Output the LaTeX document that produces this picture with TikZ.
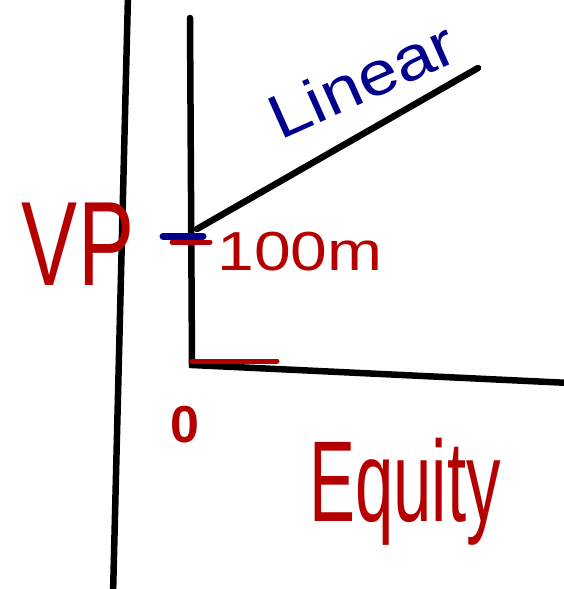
\documentclass[tikz,border=0pt]{standalone}
\usepackage{fontspec}
\setmainfont{Liberation Sans}
\definecolor{inkred}{RGB}{180,0,0}
\definecolor{inkblue}{RGB}{0,0,140}
\begin{document}
\begin{tikzpicture}[
  x=1pt, y=-1pt,
  stroke/.style={line width=6.5pt, line cap=round},
  tick/.style={line width=5pt, line cap=round},
  redtext/.style={text=inkred, inner sep=0pt},
  bluetext/.style={text=inkblue, inner sep=0pt}
]
\useasboundingbox (0,0) rectangle (564,589);
% axes
\coordinate (lt) at (128,-5);
\coordinate (lb) at (113,595);
\coordinate (ytop) at (190,18);
\coordinate (o) at (192,365);
\coordinate (xend) at (570,383);
\coordinate (ls) at (197,229);
\coordinate (le) at (478,68);
\draw[stroke] (lt) -- (lb);
\draw[stroke] (ytop) -- (o) -- (xend);
\draw[stroke] (ls) -- (le);
% ticks
\coordinate (bt1) at (163,236);
\coordinate (bt2) at (203,236);
\coordinate (rt1) at (172,242);
\coordinate (rt2) at (210,242);
\coordinate (zt1) at (192,361);
\coordinate (zt2) at (277,361);
\draw[tick, inkred] (rt1) -- (rt2);
\draw[tick, inkblue, line width=7pt] (bt1) -- (bt2);
\draw[tick, inkred] (zt1) -- (zt2);
% labels
\node[bluetext, rotate=24, xscale=1.15] (linear) at (362,80) {\fontsize{62}{62}\selectfont Linear};
\node[redtext, xscale=0.7] (vp) at (78,244) {\fontsize{120}{120}\selectfont VP};
\node[redtext, xscale=1.2] (val) at (300,252) {\fontsize{55}{55}\selectfont 100m};
\node[redtext] (zero) at (185,425) {\fontsize{52}{52}\selectfont\bfseries 0};
\node[redtext, xscale=0.6] (equity) at (405,492) {\fontsize{115}{115}\selectfont Equity};
\end{tikzpicture}
\end{document}
